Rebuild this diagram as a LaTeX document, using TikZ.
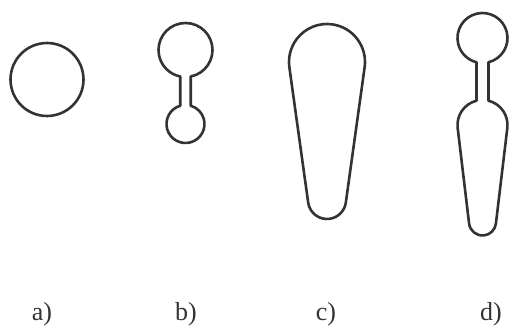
\documentclass[tikz,border=0pt]{standalone}
\usepackage{fontspec}
\setmainfont{Liberation Serif}
\usetikzlibrary{calc}
\definecolor{cellgray}{HTML}{333333}

\begin{document}
\begin{tikzpicture}[x=1pt, y=1pt,
  outline/.style={line width=2.6pt, draw=cellgray, line join=round},
  tag/.style={anchor=base, text=cellgray, font=\fontsize{26}{30}\selectfont}]
\useasboundingbox (0,0) rectangle (509,326);
% a) single sphere
\draw[outline] (47,246.5) circle[radius=36.5];
% b) two spheres joined by a neck
\coordinate (bt) at (185.5,276);
\coordinate (bb) at (185.5,202);
\pgfmathsetmacro{\da}{asin(5.25/27)}
\pgfmathsetmacro{\db}{asin(5.25/19)}
\draw[outline] ($(bt)+(270+\da:27)$) arc[start angle=270+\da, end angle=630-\da, radius=27]
  -- ($(bb)+(90+\db:19)$) arc[start angle=90+\db, end angle=450-\db, radius=19] -- cycle;
% c) tapered body
\coordinate (ct) at (327,264);
\coordinate (cb) at (327,126);
\pgfmathsetmacro{\pc}{asin(19/138)}
\draw[outline] ($(ct)+(-\pc:38)$) arc[start angle=-\pc, end angle=180+\pc, radius=38]
  -- ($(cb)+(180+\pc:19)$) arc[start angle=180+\pc, end angle=360-\pc, radius=19] -- cycle;
% d) sphere on a neck above a tapered body
\coordinate (dt) at (482.5,288);
\coordinate (dm) at (482.5,201);
\coordinate (db) at (482.5,104);
\pgfmathsetmacro{\ea}{asin(6/25)}
\pgfmathsetmacro{\pd}{asin(11.5/97)}
\draw[outline] ($(dt)+(270+\ea:25)$) arc[start angle=270+\ea, end angle=630-\ea, radius=25]
  -- ($(dm)+(90+\ea:25)$) arc[start angle=90+\ea, end angle=180+\pd, radius=25]
  -- ($(db)+(180+\pd:13.5)$) arc[start angle=180+\pd, end angle=360-\pd, radius=13.5]
  -- ($(dm)+(-\pd:25)$) arc[start angle=-\pd, end angle=90-\ea, radius=25] -- cycle;
% labels
\node[tag] (la) at (42,5) {a)};
\node[tag] (lb) at (186,5) {b)};
\node[tag] (lc) at (326,5) {c)};
\node[tag] (ld) at (491,5) {d)};
\end{tikzpicture}
\end{document}
